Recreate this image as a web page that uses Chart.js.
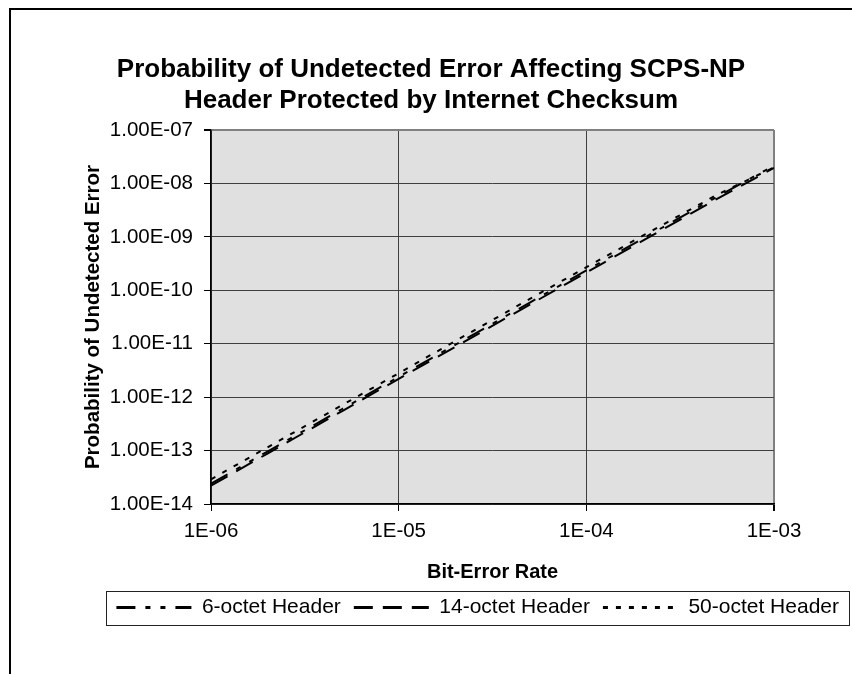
<!DOCTYPE html>
<html>
<head>
<meta charset="utf-8">
<title>Undetected Error - SCPS-NP Header</title>
<script src="https://cdn.jsdelivr.net/npm/chart.js@4.4.0/dist/chart.umd.min.js"></script>
<style>
    html, body { margin: 0; padding: 0; background: #ffffff; }
    canvas { display: block; }
</style>
</head>
<body>
<canvas id="errorChart" width="852" height="674"></canvas>
<script>
// Bit-error rates the curves are sampled at
const berValues = [1e-6, 2e-6, 5e-6, 1e-5, 2e-5, 5e-5, 1e-4, 2e-4, 5e-4, 1e-3];

// Probability of undetected error
const sixOctet = [2.4e-14, 9.6e-14, 6.0e-13, 2.4e-12, 9.5e-12, 5.9e-11, 2.35e-10, 9.3e-10, 5.7e-9, 2.15e-8];
const fourteenOctet = [2.2e-14, 8.8e-14, 5.5e-13, 2.2e-12, 8.7e-12, 5.4e-11, 2.15e-10, 8.5e-10, 5.2e-9, 1.95e-8];
const fiftyOctet = [2.9e-14, 1.15e-13, 7.1e-13, 2.8e-12, 1.12e-11, 6.9e-11, 2.7e-10, 1.05e-9, 6.2e-9, 2.0e-8];

const seriesLabels = ['6-octet Header', '14-octet Header', '50-octet Header'];

// Axis ticks
const xTickValues = [1e-6, 1e-5, 1e-4, 1e-3];
const xTickLabels = ['1E-06', '1E-05', '1E-04', '1E-03'];
const yTickValues = [1e-14, 1e-13, 1e-12, 1e-11, 1e-10, 1e-9, 1e-8, 1e-7];
const yTickLabels = ['1.00E-14', '1.00E-13', '1.00E-12', '1.00E-11', '1.00E-10', '1.00E-09', '1.00E-08', '1.00E-07'];

Chart.defaults.font.family = '"Liberation Sans", Arial, sans-serif';
Chart.defaults.color = '#000';

function toPoints(values) {
    return berValues.map((x, i) => ({ x: x, y: values[i] }));
}

function makeSeries(label, values, dash) {
    return {
        label: label,
        data: toPoints(values),
        showLine: true,
        borderColor: '#000',
        backgroundColor: '#000',
        borderWidth: 2,
        borderDash: dash,
        pointRadius: 0,
        pointHoverRadius: 0,
        tension: 0
    };
}

// Grey plot area behind grid and lines
const plotBackground = {
    id: 'plotBackground',
    beforeDraw(chart) {
        const { ctx, chartArea: a } = chart;
        ctx.save();
        ctx.fillStyle = '#ffffff';
        ctx.fillRect(0, 0, chart.width, chart.height);
        ctx.fillStyle = '#e0e0e0';
        ctx.fillRect(a.left, a.top, a.right - a.left, a.bottom - a.top);
        ctx.restore();
    }
};

// Outer chart frame and legend border
const frames = {
    id: 'frames',
    afterDraw(chart) {
        const ctx = chart.ctx;
        ctx.save();
        ctx.strokeStyle = '#000';
        ctx.lineWidth = 2;
        ctx.beginPath();
        ctx.moveTo(10, chart.height);
        ctx.lineTo(10, 9);
        ctx.lineTo(chart.width, 9);
        ctx.stroke();

        const boxes = chart.legend.legendHitBoxes;
        if (boxes && boxes.length) {
            const first = boxes[0];
            const cy = first.top + first.height / 2;
            ctx.lineWidth = 1;
            ctx.strokeStyle = '#222';
            ctx.strokeRect(106.5, Math.round(cy - 17) + 0.5, 743, 34);
        }
        ctx.restore();
    }
};

function edgeColor(ctx, edgeValue, innerColor) {
    return ctx.tick && ctx.tick.value === edgeValue ? '#808080' : innerColor;
}

// legend samples: dashed line segments like the series
function legendLabels(chart) {
    const items = Chart.defaults.plugins.legend.labels.generateLabels(chart);
    return items.map((item, i) => Object.assign(item, {
        lineDash: chart.data.datasets[i].borderDash,
        lineWidth: 3,
        strokeStyle: '#000',
        fillStyle: '#000'
    }));
}

new Chart(document.getElementById('errorChart'), {
    type: 'scatter',
    data: {
        datasets: [
            makeSeries(seriesLabels[0], sixOctet, [19, 10, 5, 10, 5, 10]),
            makeSeries(seriesLabels[1], fourteenOctet, [19, 10]),
            makeSeries(seriesLabels[2], fiftyOctet, [5, 8])
        ]
    },
    options: {
        responsive: false,
        animation: false,
        layout: {
            padding: { left: 10, right: 0, top: 0, bottom: 46 }
        },
        plugins: {
            title: {
                display: true,
                text: ['Probability of Undetected Error Affecting SCPS-NP', 'Header Protected by Internet Checksum'],
                color: '#000',
                font: { size: 26, weight: 'bold', lineHeight: 1.2 },
                padding: { top: 54, bottom: 13.6 }
            },
            legend: {
                position: 'bottom',
                align: 'end',
                labels: {
                    usePointStyle: true,
                    pointStyle: 'line',
                    pointStyleWidth: 75,
                    boxWidth: 75,
                    padding: 13,
                    color: '#000',
                    font: { size: 21 },
                    generateLabels: legendLabels
                }
            },
            tooltip: { enabled: false }
        },
        scales: {
            x: {
                type: 'logarithmic',
                min: 1e-6,
                max: 1e-3,
                afterBuildTicks: scale => {
                    scale.ticks = xTickValues.map(v => ({ value: v }));
                },
                afterFit: scale => {
                    scale.height = 80;
                },
                ticks: {
                    autoSkip: false,
                    maxRotation: 0,
                    padding: 8,
                    font: { size: 20.5 },
                    callback: (value, index) => xTickLabels[index]
                },
                grid: {
                    color: ctx => edgeColor(ctx, 1e-3, '#404040'),
                    lineWidth: ctx => (ctx.tick && ctx.tick.value === 1e-3 ? 2 : 1),
                    tickColor: '#000',
                    tickLength: 7
                },
                border: { color: '#000', width: 1.5 },
                title: {
                    display: true,
                    text: 'Bit-Error Rate',
                    font: { size: 20, weight: 'bold', lineHeight: 1.2 },
                    padding: { top: 0, bottom: 0 }
                }
            },
            y: {
                type: 'logarithmic',
                min: 1e-14,
                max: 1e-7,
                afterBuildTicks: scale => {
                    scale.ticks = yTickValues.map(v => ({ value: v }));
                },
                afterFit: scale => {
                    scale.width = 201;
                },
                ticks: {
                    autoSkip: false,
                    padding: 11,
                    font: { size: 20.5 },
                    callback: (value, index) => yTickLabels[index]
                },
                grid: {
                    color: ctx => edgeColor(ctx, 1e-7, '#404040'),
                    lineWidth: ctx => (ctx.tick && ctx.tick.value === 1e-7 ? 2 : 1),
                    tickColor: '#000',
                    tickLength: 7
                },
                border: { color: '#000', width: 1.5 },
                title: {
                    display: true,
                    text: 'Probability of Undetected Error',
                    font: { size: 20.5, weight: 'bold', lineHeight: 1.2 },
                    padding: { top: 71, bottom: 0 }
                }
            },
            // empty right-hand axis that keeps the plot's right margin
            yRight: {
                type: 'linear',
                position: 'right',
                display: true,
                grid: { display: false },
                border: { display: false },
                ticks: { display: false },
                afterFit: scale => {
                    scale.width = 78;
                }
            }
        }
    },
    plugins: [plotBackground, frames]
});
</script>
</body>
</html>
